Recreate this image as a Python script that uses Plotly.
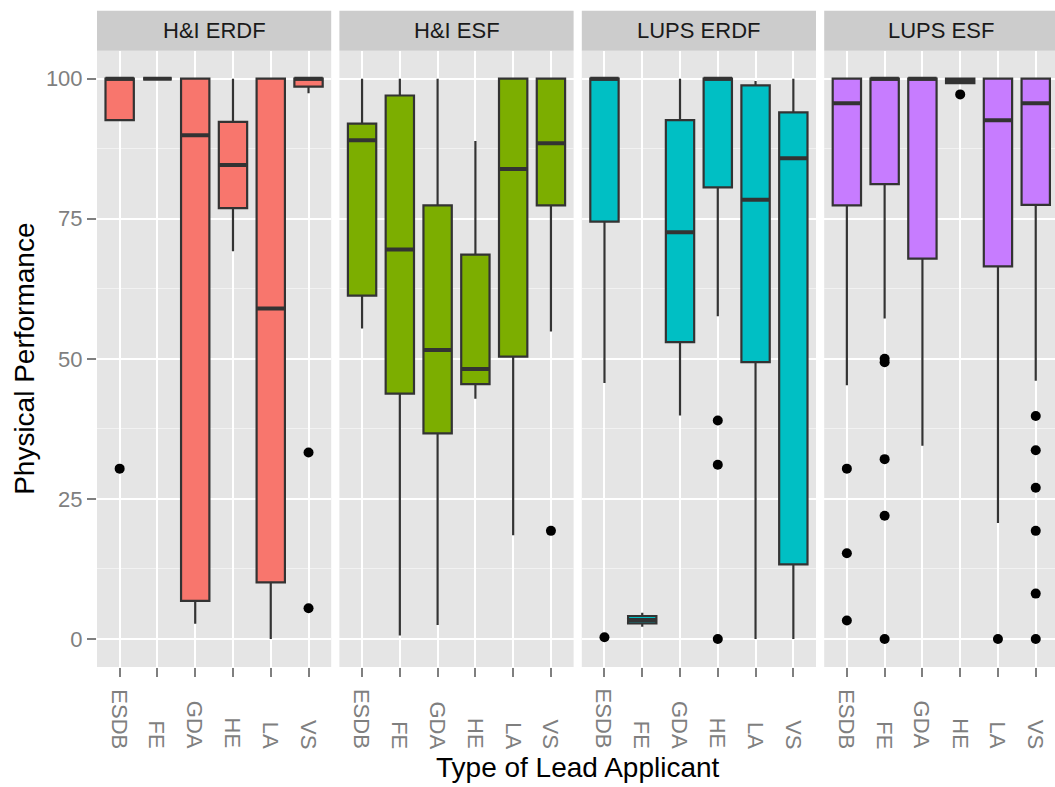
import plotly.graph_objects as go

# ---------------- data ----------------
categories = ["ESDB", "FE", "GDA", "HE", "LA", "VS"]
panels = ["H&I ERDF", "H&I ESF", "LUPS ERDF", "LUPS ESF"]
fill_colors = ["#F8766D", "#7CAE00", "#00BFC4", "#C77CFF"]

lower_whisker = [
    [92.6, 100.0, 2.7, 69.2, 0.0, 97.4],
    [55.4, 0.6, 2.5, 42.9, 18.5, 54.9],
    [45.7, 2.2, 39.9, 57.6, 0.0, 0.0],
    [45.3, 57.2, 34.5, 99.0, 20.7, 46.1],
]
q1_values = [
    [92.6, 100.0, 6.8, 76.9, 10.1, 98.6],
    [61.3, 43.8, 36.7, 45.5, 50.4, 77.4],
    [74.5, 2.8, 53.0, 80.6, 49.4, 13.3],
    [77.4, 81.2, 67.9, 99.2, 66.5, 77.5],
]
median_values = [
    [100.0, 100.0, 89.9, 84.6, 59.0, 100.0],
    [89.0, 69.5, 51.6, 48.2, 83.9, 88.5],
    [100.0, 3.4, 72.6, 100.0, 78.4, 85.8],
    [95.6, 100.0, 100.0, 99.7, 92.6, 95.6],
]
q3_values = [
    [100.0, 100.0, 100.0, 92.3, 100.0, 100.0],
    [92.0, 97.0, 77.4, 68.6, 100.0, 100.0],
    [100.0, 4.1, 92.6, 100.0, 98.8, 94.0],
    [100.0, 100.0, 100.0, 100.0, 100.0, 100.0],
]
upper_whisker = [
    [100.0, 100.0, 100.0, 100.0, 100.0, 100.0],
    [100.0, 100.0, 100.0, 88.9, 100.0, 100.0],
    [100.0, 4.7, 100.0, 100.0, 99.6, 100.0],
    [100.0, 100.0, 100.0, 100.0, 100.0, 100.0],
]
outlier_cats = [
    ["ESDB", "VS", "VS"],
    ["VS"],
    ["ESDB", "HE", "HE", "HE"],
    ["ESDB", "ESDB", "ESDB", "FE", "FE", "FE", "FE", "FE", "HE", "LA",
     "VS", "VS", "VS", "VS", "VS", "VS"],
]
outlier_vals = [
    [30.4, 33.3, 5.5],
    [19.3],
    [0.3, 39.0, 31.1, 0.0],
    [30.4, 15.3, 3.3, 49.4, 50.0, 32.1, 22.0, 0.0, 97.2, 0.0,
     39.8, 33.7, 27.0, 19.3, 8.1, 0.0],
]
y_ticks = [0, 25, 50, 75, 100]
y_minor = [12.5, 37.5, 62.5, 87.5]

# ---------------- layout geometry (pixels) ----------------
W, H = 1055, 787
panel_left = [97.0, 339.4, 581.8, 824.2]
panel_w = 234.2
panel_top, panel_bottom = 50.7, 667.0
strip_top = 10.7
unit_px = panel_w / 6.2

def px_x(v):
    return v / W

def px_y(v):
    return 1 - v / H

fig = go.Figure()
annotations = []
shapes = []
grey_text = "#7F7F7F"
font_family = "Liberation Sans"

for i, name in enumerate(panels):
    ax = "" if i == 0 else str(i + 1)
    xref, yref = "x" + ax, "y" + ax
    fig.add_trace(go.Box(
        x=categories, q1=q1_values[i], median=median_values[i], q3=q3_values[i],
        lowerfence=lower_whisker[i], upperfence=upper_whisker[i],
        fillcolor=fill_colors[i], line=dict(color="#333333", width=2.2),
        whiskerwidth=0, width=0.75, boxpoints=False, showlegend=False,
        hoverinfo="skip", xaxis=xref, yaxis=yref,
    ))
    fig.add_trace(go.Scatter(
        x=categories, y=median_values[i], mode="markers",
        marker=dict(symbol="line-ew", size=20.3,
                    line=dict(color="#333333", width=4)),
        showlegend=False, hoverinfo="skip", xaxis=xref, yaxis=yref,
    ))
    fig.add_trace(go.Scatter(
        x=outlier_cats[i], y=outlier_vals[i], mode="markers",
        marker=dict(color="black", size=10),
        showlegend=False, hoverinfo="skip", xaxis=xref, yaxis=yref,
    ))

    left = panel_left[i]
    right = min(left + panel_w, W)
    upper = -0.6 + (right - left) / unit_px
    fig.update_layout({
        "xaxis" + ax: dict(
            domain=[px_x(left), px_x(right)], type="category",
            categoryorder="array", categoryarray=categories,
            range=[-0.6, upper], showgrid=True, gridcolor="white", gridwidth=2,
            ticks="outside", ticklen=9, tickwidth=2, tickcolor=grey_text,
            showticklabels=False, zeroline=False, showline=False,
            anchor=yref, fixedrange=True,
        ),
        "yaxis" + ax: dict(
            domain=[px_y(panel_bottom), px_y(panel_top)], range=[-5, 105],
            tickvals=y_ticks, showgrid=True, gridcolor="white", gridwidth=2,
            minor=dict(tickvals=y_minor, showgrid=True, gridcolor="#F2F2F2",
                       gridwidth=1, ticks=""),
            ticks="outside" if i == 0 else "", ticklen=9, tickwidth=2,
            tickcolor=grey_text, showticklabels=(i == 0),
            tickfont=dict(size=22, color=grey_text, family=font_family),
            zeroline=False, showline=False, anchor=xref, fixedrange=True,
        ),
    })

    # strip
    shapes.append(dict(type="rect", xref="paper", yref="paper",
                       x0=px_x(left), x1=px_x(right),
                       y0=px_y(panel_top), y1=px_y(strip_top),
                       fillcolor="#CCCCCC", line=dict(width=0), layer="below"))
    annotations.append(dict(text=name, xref="paper", yref="paper",
                            x=px_x(left + panel_w / 2), y=px_y((panel_top + strip_top) / 2),
                            xanchor="center", yanchor="middle", showarrow=False,
                            font=dict(size=22, color="#1A1A1A", family=font_family)))
    # x tick labels, bottom aligned
    for c in categories:
        annotations.append(dict(text=c, xref=xref, yref="paper", x=c, y=px_y(750),
                                xanchor="center", yanchor="bottom", textangle=90,
                                showarrow=False, borderpad=0,
                                font=dict(size=22, color=grey_text, family=font_family)))

annotations.append(dict(text="Type of Lead Applicant", xref="paper", yref="paper",
                        x=px_x((97 + 1058) / 2), y=px_y(767), xanchor="center",
                        yanchor="middle", showarrow=False,
                        font=dict(size=28, color="black", family=font_family)))
annotations.append(dict(text="Physical Performance", xref="paper", yref="paper",
                        x=px_x(25), y=px_y((panel_top + panel_bottom) / 2),
                        xanchor="center", yanchor="middle", textangle=-90,
                        showarrow=False,
                        font=dict(size=28, color="black", family=font_family)))

fig.update_layout(
    width=W, height=H, margin=dict(l=0, r=0, t=0, b=0),
    paper_bgcolor="white", plot_bgcolor="#E5E5E5",
    annotations=annotations, shapes=shapes, boxmode="overlay",
    font=dict(family=font_family),
)

fig.write_html(
    "out.html",
    config={"displayModeBar": False},
    post_script="document.body.style.margin='0';document.body.style.overflow='hidden';",
)
